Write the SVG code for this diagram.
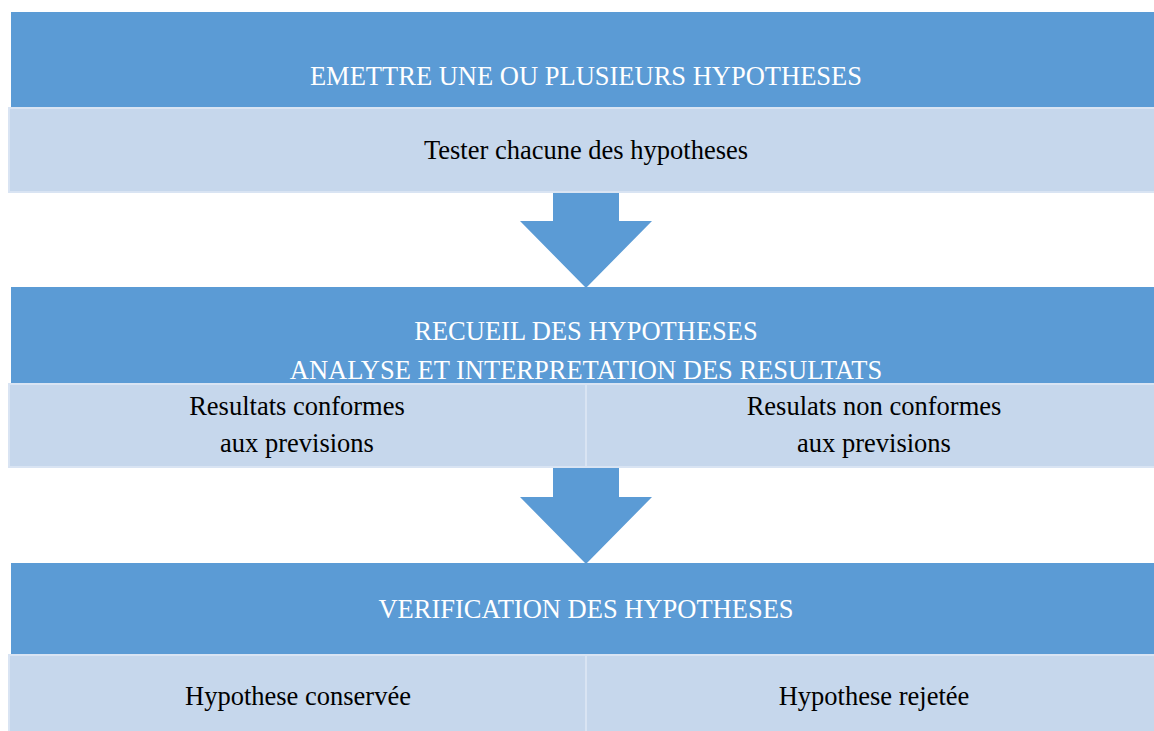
<svg xmlns="http://www.w3.org/2000/svg" width="1154" height="731" viewBox="0 0 1154 731">
<style>
.hdr{fill:#5B9BD5;}
.band{fill:#C6D7EC;stroke:#D9E4F3;stroke-width:2;}
.div{stroke:#D9E4F3;stroke-width:2;}
.arrow{fill:#5B9BD5;}
.ht{font-family:"Liberation Serif",serif;font-size:26.5px;fill:#FFFFFF;text-anchor:middle;}
.bt{font-family:"Liberation Serif",serif;font-size:26.5px;fill:#000000;text-anchor:middle;}
</style>
<rect width="1154" height="731" fill="#FFFFFF"/>
<g id="connectors">
<polygon class="arrow" points="553,192 619,192 619,221 652,221 586,288 520,221 553,221"/>
<polygon class="arrow" points="553,468 619,468 619,497 652,497 586,564 520,497 553,497"/>
</g>
<g id="node1">
<rect class="hdr" x="11" y="12" width="1143" height="95"/>
<text class="ht" x="586" y="85">EMETTRE UNE OU PLUSIEURS HYPOTHESES</text>
<rect class="band" x="9" y="108" width="1146" height="84"/>
<text class="bt" x="586" y="159">Tester chacune des hypotheses</text>
</g>
<g id="node2">
<rect class="hdr" x="11" y="287" width="1143" height="96"/>
<text class="ht" x="586" y="340">RECUEIL DES HYPOTHESES</text>
<rect class="band" x="9" y="384" width="1146" height="83"/>
<line class="div" x1="586" y1="384" x2="586" y2="467"/>
<text class="ht" x="586" y="379">ANALYSE ET INTERPRETATION DES RESULTATS</text>
<text class="bt" x="297" y="415">Resultats conformes</text>
<text class="bt" x="297" y="452">aux previsions</text>
<text class="bt" x="874" y="415">Resulats non conformes</text>
<text class="bt" x="874" y="452">aux previsions</text>
</g>
<g id="node3">
<rect class="hdr" x="11" y="563" width="1143" height="91"/>
<text class="ht" x="586" y="618">VERIFICATION DES HYPOTHESES</text>
<rect class="band" x="9" y="655" width="1146" height="80"/>
<line class="div" x1="586" y1="655" x2="586" y2="731"/>
<text class="bt" x="298" y="705">Hypothese conservée</text>
<text class="bt" x="874" y="705">Hypothese rejetée</text>
</g>
</svg>
